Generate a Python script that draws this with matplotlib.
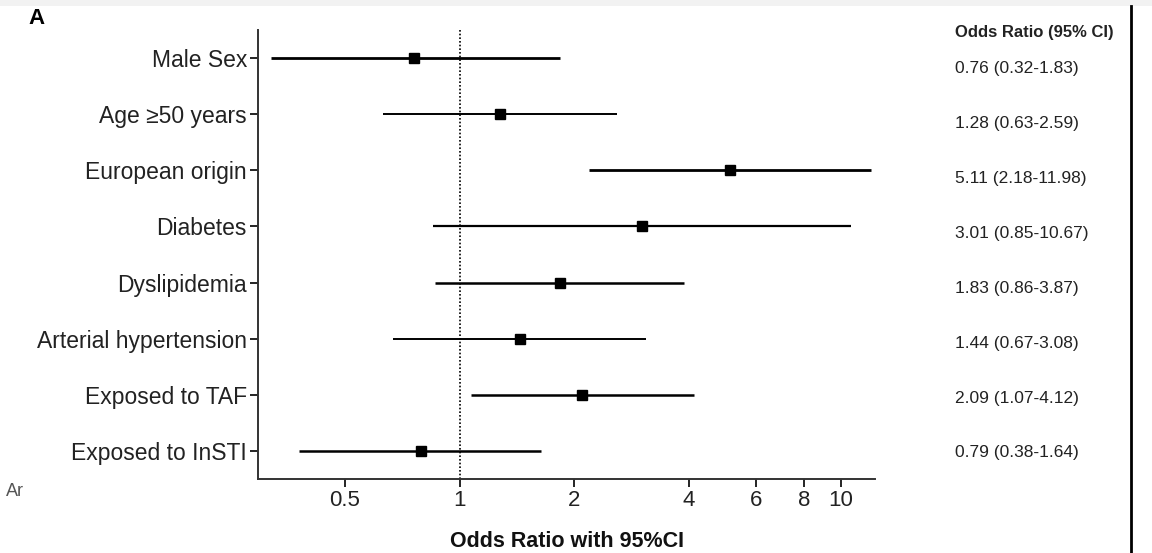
import matplotlib
matplotlib.use("Agg")
import matplotlib.pyplot as plt
from matplotlib.lines import Line2D
import numpy as np

plt.rcParams['font.family'] = ['Liberation Sans', 'DejaVu Sans']

labels = ["Male Sex", "Age \u226550 years", "European origin", "Diabetes",
          "Dyslipidemia", "Arterial hypertension", "Exposed to TAF", "Exposed to InSTI"]
odds = [0.76, 1.28, 5.11, 3.01, 1.83, 1.44, 2.09, 0.79]
lower = [0.32, 0.63, 2.18, 0.85, 0.86, 0.67, 1.07, 0.38]
upper = [1.83, 2.59, 11.98, 10.67, 3.87, 3.08, 4.12, 1.64]
or_text = ["0.76 (0.32-1.83)", "1.28 (0.63-2.59)", "5.11 (2.18-11.98)", "3.01 (0.85-10.67)",
           "1.83 (0.86-3.87)", "1.44 (0.67-3.08)", "2.09 (1.07-4.12)", "0.79 (0.38-1.64)"]
xticks = [0.5, 1, 2, 4, 6, 8, 10]
xticklabels = ["0.5", "1", "2", "4", "6", "8", "10"]

W, H = 1152, 553
fig = plt.figure(figsize=(W/100, H/100), dpi=100)
ax = fig.add_axes([258/W, 1-479/H, (875-258)/W, (479-30)/H])

ypos = np.arange(1, len(labels)+1)
lws = [2.0, 1.4, 2.0, 1.6, 1.8, 1.4, 1.8, 1.8]
for y, o, lo, hi, lw in zip(ypos, odds, lower, upper, lws):
    ax.plot([lo, hi], [y, y], color='black', lw=lw, solid_capstyle='butt')
ax.plot(odds, ypos, 's', color='black', markersize=7.5)
ax.axvline(1, color='black', lw=1.2, ls=(0, (1, 1.2)))

ax.set_xscale('log')
ax.set_xlim(0.296, 12.3)
ax.set_ylim(8.5, 0.5)
ax.set_xticks(xticks)
ax.set_xticklabels(xticklabels)
ax.xaxis.set_minor_locator(matplotlib.ticker.NullLocator())
ax.set_yticks(ypos)
ax.set_yticklabels(labels)
ax.tick_params(axis='both', direction='out', length=6, width=1.2, labelsize=16, colors='black')
ax.tick_params(axis='y', labelsize=16.5)
ax.tick_params(axis='x', pad=2)
ax.tick_params(axis='y', pad=2)
for lab in ax.get_xticklabels() + ax.get_yticklabels():
    lab.set_color('#222222')
for s in ['top', 'right']:
    ax.spines[s].set_visible(False)
for s in ['left', 'bottom']:
    ax.spines[s].set_linewidth(1.4)
    ax.spines[s].set_color('#333333')

ax.set_xlabel("Odds Ratio with 95%CI", fontsize=15.5, fontweight='bold', labelpad=14, color='#111111')

# right-side text column
text_y = np.linspace(1-69/H, 1-453/H, len(or_text))
for ty, t in zip(text_y, or_text):
    fig.text(955/W, ty, t, fontsize=12.5, va='center', ha='left', color='#222222')
fig.text(955/W, 1-32/H, "Odds Ratio (95% CI)", fontsize=12, fontweight='bold', va='center', ha='left',
         color='#222222')

fig.text(28/W, 1-18/H, "A", fontsize=16, fontweight='bold', va='center', ha='left')
fig.text(6/W, 1-492/H, "Ar", fontsize=13, color='#555555', va='center', ha='left')

# right vertical divider line
fig.add_artist(Line2D([1131/W, 1131/W], [0, 1-6/H], color='black', lw=2, transform=fig.transFigure))
# faint top band
fig.add_artist(matplotlib.patches.Rectangle((0, 1-6/H), 1, 6/H, color='#f2f2f2', transform=fig.transFigure, lw=0))

fig.savefig("out.png", dpi=100)
